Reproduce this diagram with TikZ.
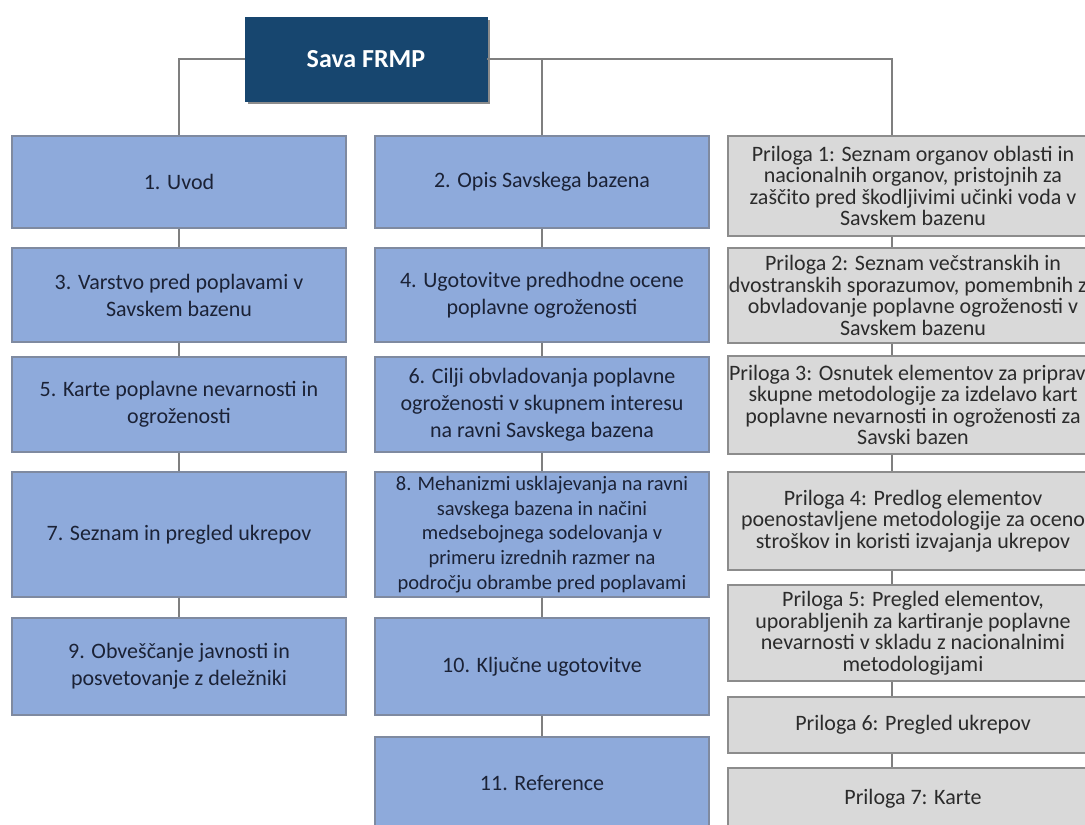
\documentclass[tikz,border=0pt]{standalone}
\usepackage{fontspec}
\setmainfont{Carlito}
\usetikzlibrary{shadows}
\definecolor{titlefill}{HTML}{17466F}
\definecolor{bluefill}{HTML}{8EAADB}
\definecolor{bluebd}{HTML}{7F8AA0}
\definecolor{bluetext}{HTML}{1B2236}
\definecolor{grayfill}{HTML}{D9D9D9}
\definecolor{graybd}{HTML}{8C8C8C}
\definecolor{graytext}{HTML}{2B2B2B}
\definecolor{conncol}{HTML}{7F7F7F}
\tikzset{
  titlebox/.style={draw=titlefill, fill=titlefill, text=white, inner sep=0pt,
    minimum width=242pt, minimum height=84pt,
    font=\fontsize{26}{30}\selectfont\bfseries,
    drop shadow={shadow xshift=3pt, shadow yshift=-3pt, opacity=0.45, fill=black}},
  bluebox/.style={draw=bluebd, fill=bluefill, line width=1.2pt, text=bluetext,
    align=center, inner sep=0pt, minimum width=334pt,
    font=\fontsize{22}{27}\selectfont},
  densebox/.style={bluebox, font=\fontsize{20.5}{24.7}\selectfont},
  graybox/.style={draw=graybd, fill=grayfill, line width=1.2pt, text=graytext,
    align=center, inner sep=0pt, minimum width=370pt,
    font=\fontsize{22}{21.5}\selectfont},
  conn/.style={draw=conncol, line width=1.5pt}
}
\begin{document}
\begin{tikzpicture}[x=1pt,y=-1pt]
\useasboundingbox (0,0) rectangle (1085,825);
\fill[white] (0,0) rectangle (1085,825);
\clip (0,0) rectangle (1085,825);

% title
\node[titlebox] (T) at (366,59) {Sava FRMP};
\coordinate (c3) at (892,59);

% column 1
\node[bluebox, minimum height=92pt]  (B1) at (179,182)   {1. Uvod};
\node[bluebox, minimum height=94pt]  (B3) at (179,295)   {3. Varstvo pred poplavami v\\Savskem bazenu};
\node[bluebox, minimum height=95pt]  (B5) at (179,404.5) {5. Karte poplavne nevarnosti in\\ogroženosti};
\node[bluebox, minimum height=125pt] (B7) at (179,534.5) {7. Seznam in pregled ukrepov};
\node[bluebox, minimum height=97pt]  (B9) at (179,666.5) {9. Obveščanje javnosti in\\posvetovanje z deležniki};

% column 2
\node[bluebox, minimum height=92pt]  (B2)  at (542,182)   {2. Opis Savskega bazena};
\node[bluebox, minimum height=94pt]  (B4)  at (542,295)   {4. Ugotovitve predhodne ocene\\poplavne ogroženosti};
\node[bluebox, minimum height=95pt]  (B6)  at (542,404.5) {6. Cilji obvladovanja poplavne\\ogroženosti v skupnem interesu\\na ravni Savskega bazena};
\node[densebox, minimum height=125pt] (B8) at (542,534.5) {8. Mehanizmi usklajevanja na ravni\\savskega bazena in načini\\medsebojnega sodelovanja v\\primeru izrednih razmer na\\področju obrambe pred poplavami};
\node[bluebox, minimum height=97pt]  (B10) at (542,666.5) {10. Ključne ugotovitve};
\node[bluebox, minimum height=93pt]  (B11) at (542,783.5) {11. Reference};

% column 3
\node[graybox, minimum height=100pt] (P1) at (913,186)   {Priloga 1: Seznam organov oblasti in\\nacionalnih organov, pristojnih za\\zaščito pred škodljivimi učinki voda v\\Savskem bazenu};
\node[graybox, minimum height=95pt]  (P2) at (913,295.5) {Priloga 2: Seznam večstranskih in\\dvostranskih sporazumov, pomembnih za\\obvladovanje poplavne ogroženosti v\\Savskem bazenu};
\node[graybox, minimum height=98pt]  (P3) at (913,405)   {Priloga 3: Osnutek elementov za pripravo\\skupne metodologije za izdelavo kart\\poplavne nevarnosti in ogroženosti za\\Savski bazen};
\node[graybox, minimum height=98pt]  (P4) at (913,521)   {Priloga 4: Predlog elementov\\poenostavljene metodologije za oceno\\stroškov in koristi izvajanja ukrepov};
\node[graybox, minimum height=96pt]  (P5) at (913,633)   {Priloga 5: Pregled elementov,\\uporabljenih za kartiranje poplavne\\nevarnosti v skladu z nacionalnimi\\metodologijami};
\node[graybox, minimum height=56pt]  (P6) at (913,725)   {Priloga 6: Pregled ukrepov};
\node[graybox, minimum height=62pt]  (P7) at (913,799)   {Priloga 7: Karte};

% connectors from title
\draw[conn] (T.west) -| (B1.north);
\draw[conn] (T.east) -- (c3) -- (c3 |- P1.north);
\draw[conn] (B2.north) -- (B2.north |- T.east);

% column 1 chain
\draw[conn] (B1.south) -- (B3.north);
\draw[conn] (B3.south) -- (B5.north);
\draw[conn] (B5.south) -- (B7.north);
\draw[conn] (B7.south) -- (B9.north);

% column 2 chain
\draw[conn] (B2.south) -- (B4.north);
\draw[conn] (B4.south) -- (B6.north);
\draw[conn] (B6.south) -- (B8.north);
\draw[conn] (B8.south) -- (B10.north);
\draw[conn] (B10.south) -- (B11.north);

% column 3 chain
\draw[conn] (P1.south -| c3) -- (P2.north -| c3);
\draw[conn] (P2.south -| c3) -- (P3.north -| c3);
\draw[conn] (P3.south -| c3) -- (P4.north -| c3);
\draw[conn] (P4.south -| c3) -- (P5.north -| c3);
\draw[conn] (P5.south -| c3) -- (P6.north -| c3);
\draw[conn] (P6.south -| c3) -- (P7.north -| c3);
\end{tikzpicture}
\end{document}
